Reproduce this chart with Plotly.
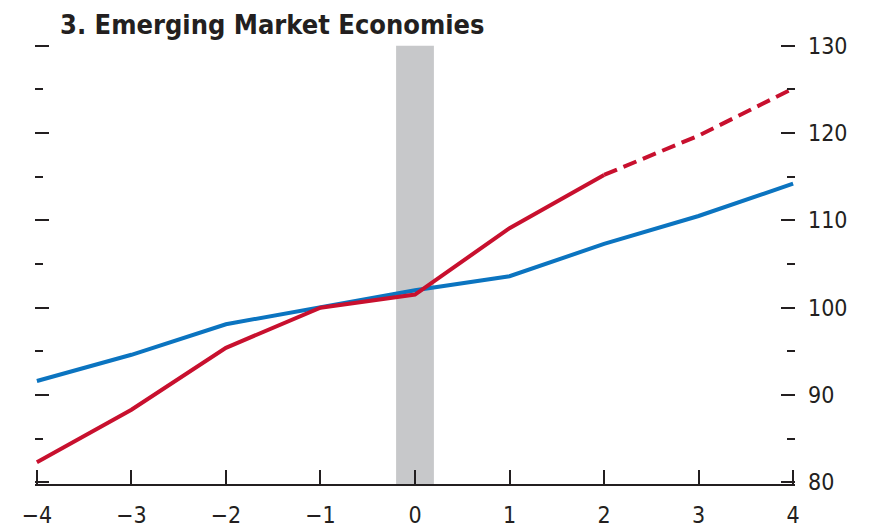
import plotly.graph_objects as go

years = [-4, -3, -2, -1, 0, 1, 2, 3, 4]
red_actual_x = [-4, -3, -2, -1, 0, 1, 2]
red_actual = [82.3, 88.3, 95.4, 100.0, 101.5, 109.1, 115.2]
red_proj_x = [2, 3, 4]
red_proj = [115.2, 119.7, 125.1]
blue = [91.6, 94.6, 98.1, 100.0, 102.0, 103.6, 107.3, 110.5, 114.2]
x_ticks = [-4, -3, -2, -1, 0, 1, 2, 3, 4]
x_labels = ["\u22124", "\u22123", "\u22122", "\u22121", "0", "1", "2", "3", "4"]
y_ticks = [80, 90, 100, 110, 120, 130]
band = [-0.2, 0.2]
title = "3. Emerging Market Economies"

RED = "#C8102E"
BLUE = "#0B74C0"
INK = "#231F20"
FONT = "DejaVu Sans Condensed, Liberation Sans Narrow, sans-serif"

yr = [79.8, 130.2]

fig = go.Figure()
fig.add_shape(type="rect", xref="x", yref="y", x0=band[0], x1=band[1], y0=yr[0], y1=130,
              fillcolor="#C7C8CA", line_width=0, layer="below")
fig.add_trace(go.Scatter(x=years, y=blue, mode="lines", line=dict(color=BLUE, width=4),
                         showlegend=False, hoverinfo="skip"))
fig.add_trace(go.Scatter(x=red_actual_x, y=red_actual, mode="lines", line=dict(color=RED, width=4),
                         showlegend=False, hoverinfo="skip"))
fig.add_trace(go.Scatter(x=red_proj_x, y=red_proj, mode="lines",
                         line=dict(color=RED, width=4, dash="14px,7px"),
                         showlegend=False, hoverinfo="skip"))
fig.add_trace(go.Scatter(x=[years[0]], y=[blue[0]], yaxis="y2", mode="markers",
                         marker=dict(opacity=0), showlegend=False, hoverinfo="skip"))

fig.update_layout(
    width=877, height=530,
    margin=dict(l=35, r=82, t=44, b=46, autoexpand=False),
    paper_bgcolor="white", plot_bgcolor="white",
    font=dict(family=FONT, size=23, color=INK),
    xaxis=dict(range=[-4.02, 4.02], tickvals=x_ticks, ticktext=x_labels, ticks="inside",
               ticklen=14, tickwidth=1.5, tickcolor=INK, showline=True,
               linecolor=INK, linewidth=1.5, showgrid=False, zeroline=False,
               ticklabelstandoff=10, tickfont=dict(size=23), automargin=False),
    yaxis=dict(range=yr, dtick=10, tick0=80, ticks="inside", ticklen=14,
               tickwidth=1.5, tickcolor=INK, showticklabels=False,
               showgrid=False, zeroline=False, showline=False, automargin=False,
               minor=dict(ticks="inside", ticklen=8, dtick=5, tick0=80,
                          tickwidth=1.5, tickcolor=INK, showgrid=False)),
    yaxis2=dict(range=yr, overlaying="y", side="right", tickvals=y_ticks,
                ticks="inside", ticklen=14, tickwidth=1.5, tickcolor=INK,
                showgrid=False, zeroline=False, showline=False, automargin=False,
                ticklabelstandoff=12, tickfont=dict(size=23),
                minor=dict(ticks="inside", ticklen=8, dtick=5, tick0=80,
                           tickwidth=1.5, tickcolor=INK, showgrid=False)),
    annotations=[dict(text="<b>" + title + "</b>", xref="paper", yref="paper",
                      x=0.03, y=1, xanchor="left", yanchor="bottom", yshift=2,
                      showarrow=False, font=dict(size=27, family=FONT, color=INK))],
)

fig.write_html("out.html", config={"displayModeBar": False},
               post_script="document.body.style.margin='0';document.body.style.padding='0';")
